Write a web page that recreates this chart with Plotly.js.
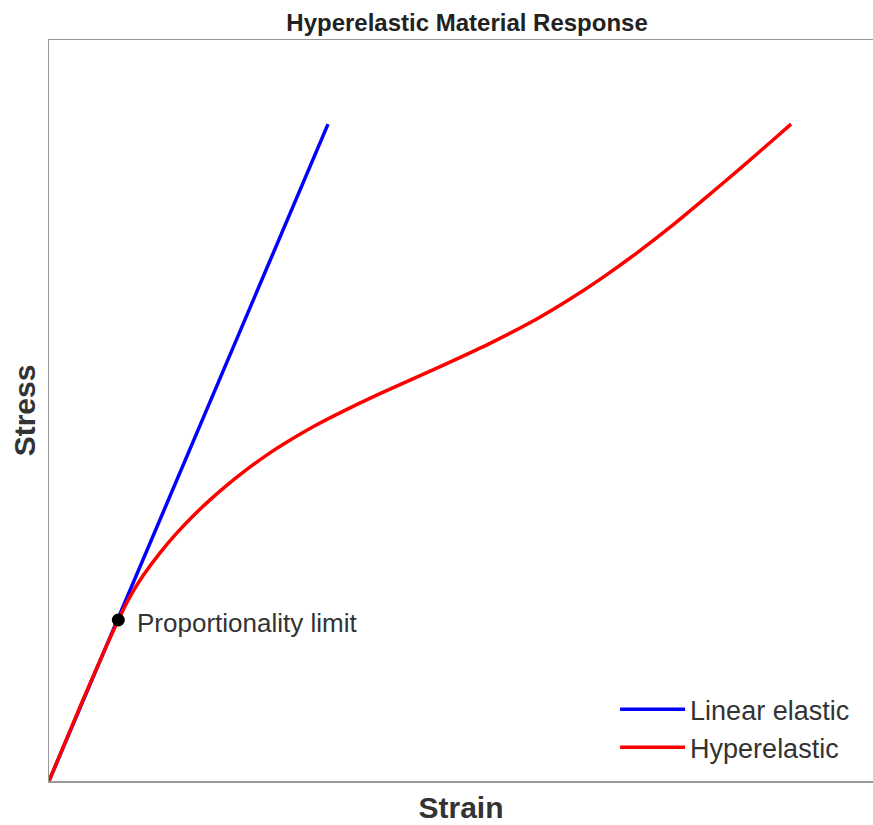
<!DOCTYPE html>
<html>
<head>
<meta charset="utf-8">
<script src="https://cdn.plot.ly/plotly-3.0.1.min.js"></script>
<style>html,body{margin:0;padding:0;background:#fff;}#chart{width:873px;height:825px;}</style>
</head>
<body>
<div id="chart"></div>
<script>
// Linear elastic line
const linearStrain = [0, 0.376];
const linearStress = [0, 1.0];

// Hyperelastic response
const hyperStrain = [0, 0.046, 0.0934, 0.1092, 0.1271, 0.1496, 0.1721, 0.1945, 0.2170, 0.2395, 0.2619, 0.2978, 0.3158, 0.3608, 0.4057, 0.4505, 0.4956, 0.5404, 0.5943, 0.6573, 0.7022, 0.7470, 0.7920, 0.8414, 0.8864, 0.9313, 0.9761, 1.0];
const hyperStress = [0, 0.124, 0.2451, 0.2807, 0.3131, 0.3473, 0.3773, 0.4038, 0.4280, 0.4501, 0.4703, 0.4995, 0.5126, 0.5422, 0.5680, 0.5919, 0.6148, 0.6376, 0.6662, 0.7032, 0.7336, 0.7671, 0.8037, 0.8470, 0.8892, 0.9322, 0.9762, 1.0];

// Proportionality limit
const limitStrain = [0.0934];
const limitStress = [0.2451];
const limitLabel = "Proportionality limit";

const traces = [
  {x: linearStrain, y: linearStress, mode: 'lines', name: 'Linear elastic',
   line: {color: '#0000ff', width: 3.5}},
  {x: hyperStrain, y: hyperStress, mode: 'lines', name: 'Hyperelastic',
   line: {color: '#ff0000', width: 3.5, shape: 'spline', smoothing: 0.6}},
  {x: limitStrain, y: limitStress, mode: 'markers', showlegend: false,
   marker: {color: '#000', size: 13}}
];

const layout = {
  width: 873, height: 825,
  margin: {l: 49, r: 0, t: 40, b: 44},
  paper_bgcolor: '#fff', plot_bgcolor: '#fff',
  font: {family: 'Liberation Sans, Arial, sans-serif', color: '#333'},
  title: {text: '<b>Hyperelastic Material Response</b>', x: 0.535, xanchor: 'center', y: 0.973, yanchor: 'middle',
          font: {size: 24, color: '#222', family: 'Liberation Sans, Arial, sans-serif'}},
  xaxis: {range: [0, 1.1105], showticklabels: false, ticks: '', showgrid: false, zeroline: false,
          showline: true, linecolor: '#999', linewidth: 1.5, mirror: true,
          title: {text: '<b>Strain</b>', font: {size: 30, color: '#333'}, standoff: 15}},
  yaxis: {range: [0, 1.128], showticklabels: false, ticks: '', showgrid: false, zeroline: false,
          showline: true, linecolor: '#999', linewidth: 1.5,
          title: {text: '<b>Stress</b>', font: {size: 30, color: '#333'}, standoff: 3}},
  legend: {x: 0.687, xanchor: 'left', y: 0.012, yanchor: 'bottom', bgcolor: 'rgba(0,0,0,0)',
           font: {size: 27, color: '#333'}, itemwidth: 65, tracegroupgap: 0},
  annotations: [{x: limitStrain[0], y: limitStress[0], xref: 'x', yref: 'y', text: limitLabel,
                 showarrow: false, xanchor: 'left', yanchor: 'middle', xshift: 17, yshift: -3,
                 font: {size: 26, color: '#333'}}]
};

Plotly.newPlot('chart', traces, layout, {displayModeBar: false, staticPlot: true});
</script>
</body>
</html>
